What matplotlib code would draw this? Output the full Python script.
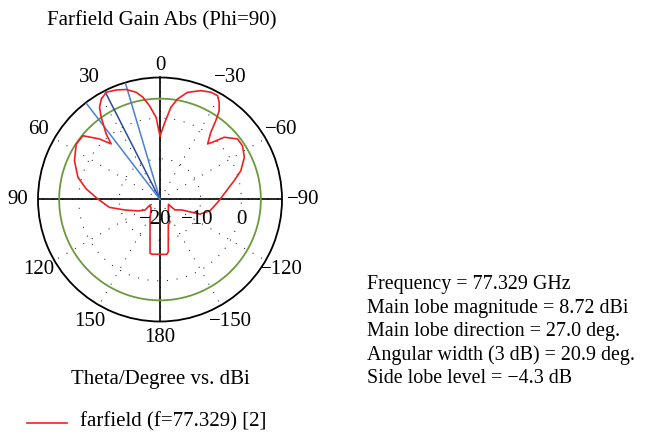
import numpy as np
import matplotlib
matplotlib.use("Agg")
import matplotlib.pyplot as plt

# farfield cut (Phi=90), theta in degrees, gain in dBi, in drawing order
theta_deg = [0.0, 2.7, 6.4, 9.5, 12.5, 17.1, 21.8, 26.6, 30.3, 33.3, 35.6,
             39.4, 41.3, 45.0, 50.4, 56.5, 65.6, 74.9, 81.9, 89.5, 98.8,
             106.7, 117.9, 125.0, 118.8, 134.4, 154.0, 158.6, 169.5, 171.4,
             -173.0, -171.0, -162.0, -155.8, -156.2, -136.7, -120.0, -125.0,
             -115.8, -110.0, -102.6, -92.8, -85.1, -75.8, -70.4, -63.4,
             -56.9, -52.0, -45.9, -42.5, -40.6, -37.1, -35.3, -33.7, -31.3,
             -29.0, -25.4, -20.6, -14.4, -9.9, -6.7, -3.2, -0.15]
gain_db = [-4.4, 0.2, 3.2, 5.5, 7.0, 8.3, 9.0, 9.5, 8.6, 7.1, 4.8,
           0.85, -1.8, 1.05, 4.6, 4.7, 3.1, 0.9, -1.7, -4.7, -7.4,
           -11.0, -14.0, -15.5, -17.2, -16.9, -14.4, -13.3, -6.55, -6.4,
           -6.4, -7.0, -13.4, -14.0, -14.9, -17.0, -17.6, -15.5,
           -14.1, -9.5, -7.4, -5.8, -4.2, -1.2, 1.1, 3.2,
           4.2, 4.2, 2.0, -0.9, -2.0, 0.7, 3.75, 6.2, 8.0,
           9.2, 9.2, 8.6, 7.2, 5.1, 2.8, -1.4, -4.3]

main_dir = 27.0
beam_width = 20.9
level_3db = 4.8
r_min, r_max = -20, 10
radial_ticks = [-20, -10, 0]
angle_ticks = [0, 30, 60, 90, 120, 150, 180, -150, -120, -90, -60, -30]

info_lines = ["Frequency = 77.329 GHz",
              "Main lobe magnitude = 8.72 dBi",
              "Main lobe direction = 27.0 deg.",
              "Angular width (3 dB) = 20.9 deg.",
              "Side lobe level = \u22124.3 dB"]

plt.rcParams['font.family'] = ['Liberation Serif', 'DejaVu Serif']
FS = 15

fig = plt.figure(figsize=(6.45, 4.44), dpi=100)
W, H = 645, 444
cx, cy, R = 160, 199.5, 122
ax = fig.add_axes([(cx - R) / W, (H - cy - R) / H, 2 * R / W, 2 * R / H],
                  projection='polar')
ax.set_theta_zero_location('N')
ax.set_theta_direction(1)
ax.set_ylim(r_min, r_max)

# dotted grid
ax.set_xticks(np.deg2rad(np.arange(0, 360, 30)))
ax.set_xticklabels([])
ax.set_yticks([-10, 0])
ax.set_yticklabels([])
ax.grid(True, color='black', linestyle=(0, (1, 9)), linewidth=0.7)
ax.spines['polar'].set_linewidth(1.3)

# solid cross
for a in [0, 90, 180, 270]:
    ax.plot([np.deg2rad(a), np.deg2rad(a)], [r_min, r_max], color='black', lw=1.2,
            zorder=2)

# 3 dB circle
t = np.linspace(0, 2 * np.pi, 400)
ax.plot(t, np.full_like(t, level_3db), color='#6b9a3c', lw=1.3, zorder=3)

# main lobe direction and 3 dB width
for a, c in [(main_dir - beam_width / 2, '#4a7fd4'), (main_dir, '#2c4a9e'),
             (main_dir + beam_width / 2, '#4a7fd4')]:
    ax.plot([np.deg2rad(a)] * 2, [r_min, r_max], color=c, lw=1.1, zorder=4)

# farfield curve
ax.plot(np.deg2rad(theta_deg), gain_db, color='#f02020', lw=1.2, zorder=5,
        label='farfield (f=77.329) [2]')

# angle labels (label distance from centre in pixels)
label_px = {0: 134, 180: 138.5, 90: 142, -90: 143}
for a in angle_ticks:
    lab = str(a).replace('-', '\u2212')
    rr = r_min + label_px.get(a, 140.5) / R * (r_max - r_min)
    ax.text(np.deg2rad(a), rr, lab, ha='center', va='center', fontsize=FS,
            clip_on=False)

# radial labels
for r, dx in zip(radial_ticks, [-5, -3, 0]):
    x = cx + (r - r_min) / (r_max - r_min) * R + dx
    fig.text(x / W, 1 - 219 / H, str(r).replace('-', '\u2212'), ha='center',
             va='center', fontsize=FS, zorder=6)

fig.text(162 / W, 1 - 21 / H, 'Farfield Gain Abs (Phi=90)', ha='center',
         va='center', fontsize=FS)
fig.text(160 / W, 1 - 379 / H, 'Theta/Degree vs. dBi', ha='center',
         va='center', fontsize=FS)

for i, line in enumerate(info_lines):
    fig.text(367 / W, 1 - (285 + i * 23.3) / H, line, ha='left', va='center',
             fontsize=14.4)

# legend
fig.lines.append(plt.Line2D([27 / W, 67 / W], [1 - 423 / H] * 2,
                            color='#f02020', lw=1.2, transform=fig.transFigure))
fig.text(80 / W, 1 - 422 / H, 'farfield (f=77.329) [2]', ha='left',
         va='center', fontsize=FS)

fig.savefig('out.png', dpi=100)
